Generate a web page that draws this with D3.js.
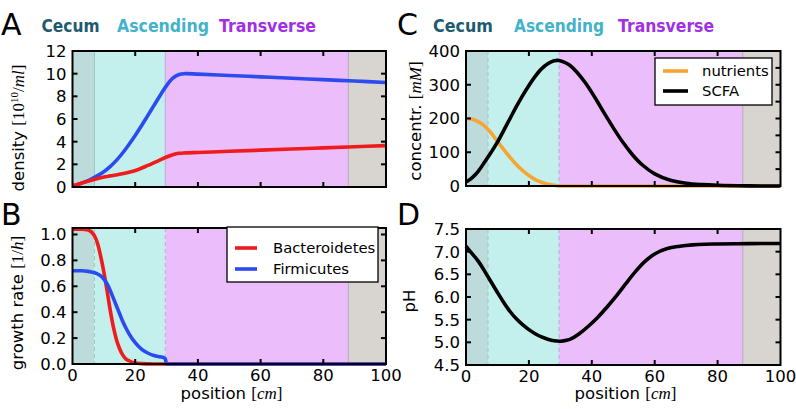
<!DOCTYPE html>
<html><head><meta charset="utf-8">
<script src="https://cdn.jsdelivr.net/npm/d3@7"></script>
<style>
body{margin:0;background:#fff;}
svg{display:block;}
text{font-family:"DejaVu Sans",sans-serif;}
</style></head>
<body>
<svg id="c" width="796" height="409"></svg>
<script>
// ---------------- DATA ----------------
const regionNames = ["Cecum", "Ascending", "Transverse"];
const regionStart = [0, 7, 29.6, 88];
const regionEnd   = [7, 29.6, 88, 100];
const xTicks = [0, 20, 40, 60, 80, 100];

// Panel A: density [10^10/ml]
const densPos  = [0, 2, 4, 6, 8, 10, 12, 14, 16, 18, 20, 22, 24, 26, 28, 30, 32, 34, 36, 40, 50, 60, 70, 80, 90, 100];
const densFirm = [0.1, 0.25, 0.45, 0.7, 1.0, 1.35, 1.8, 2.35, 3.0, 3.75, 4.55, 5.4, 6.3, 7.2, 8.1, 8.95, 9.6, 9.93, 10.0, 9.96, 9.84, 9.72, 9.6, 9.47, 9.35, 9.22];
const densBactPos = [0, 3, 6, 9, 12, 15, 18, 21, 24, 27, 30, 32, 34, 36, 40, 50, 60, 70, 80, 90, 100];
const densBact = [0.1, 0.35, 0.6, 0.82, 0.98, 1.12, 1.3, 1.55, 1.9, 2.27, 2.65, 2.85, 2.97, 3.01, 3.05, 3.15, 3.25, 3.35, 3.45, 3.55, 3.65];
const densTicks = [0, 2, 4, 6, 8, 10, 12];

// Panel B: growth rate [1/h]
const growPos  = [0, 3, 5, 6, 7, 8, 9, 10, 11, 12, 13, 14, 15, 16, 17, 18, 20, 22, 24, 26, 28, 29, 29.6, 30, 100];
const growBact = [1.04, 1.04, 1.035, 1.02, 0.99, 0.93, 0.83, 0.71, 0.57, 0.42, 0.29, 0.19, 0.12, 0.07, 0.04, 0.025, 0.008, 0.003, 0.001, 0, 0, 0, 0, 0, 0];
const growFirm = [0.72, 0.72, 0.715, 0.71, 0.705, 0.695, 0.68, 0.655, 0.62, 0.57, 0.51, 0.45, 0.39, 0.33, 0.28, 0.235, 0.165, 0.115, 0.085, 0.065, 0.055, 0.05, 0.04, 0.0, 0.0];
const growTicks = [0, 0.2, 0.4, 0.6, 0.8, 1.0];

// Panel C: concentration [mM]
const nutrPos  = [0, 2, 4, 6, 8, 10, 12, 14, 16, 18, 20, 22, 24, 26, 28, 29.5, 31, 40, 60, 80, 100];
const concNutr = [200, 198, 190, 177, 157, 132, 108, 85, 64, 46, 31, 19, 11, 5, 2, 0, 0, 0, 0, 0, 0];
const scfaPos  = [0, 2, 4, 6, 8, 10, 12, 14, 16, 18, 20, 22, 24, 26, 28, 29.5, 31, 33, 35, 38, 41, 44, 47, 50, 53, 56, 60, 65, 70, 75, 80, 90, 100];
const concSCFA = [12, 25, 45, 72, 100, 130, 165, 200, 235, 268, 298, 325, 347, 362, 371, 372, 368, 358, 340, 305, 262, 215, 170, 128, 92, 63, 36, 17, 8, 4, 2, 0.5, 0];
const concTicks = [0, 100, 200, 300, 400];
const concTicksRight = [0, 50, 100, 150, 200, 250, 300, 350, 400];

// Panel D: pH
const phPos = [0, 2, 4, 6, 8, 10, 12, 14, 16, 18, 20, 22, 24, 26, 28, 30, 32, 34, 36, 39, 42, 45, 48, 51, 54, 57, 60, 64, 68, 72, 76, 80, 90, 100];
const phVal = [7.12, 6.95, 6.78, 6.56, 6.33, 6.1, 5.88, 5.68, 5.52, 5.39, 5.28, 5.19, 5.12, 5.07, 5.035, 5.025, 5.045, 5.1, 5.19, 5.36, 5.56, 5.79, 6.04, 6.31, 6.57, 6.79, 6.95, 7.07, 7.12, 7.15, 7.165, 7.17, 7.178, 7.18];
const phTicks = [4.5, 5.0, 5.5, 6.0, 6.5, 7.0, 7.5];

// ---------------- STYLE / LAYOUT ----------------
const regionFill = ["#bcdbda", "#c3f0ec", "#ecbdfb", "#d8d4d0"];
const titleColors = ["#1e5b6e", "#43b2cb", "#a12fe6"];
const RED = "#ee1c1c", BLUE = "#2b4bef", ORANGE = "#f6a535", BLACK = "#000";

const svg = d3.select("#c");

const panels = {
  A: {l: 72.5, r: 386, t: 51, b: 187},
  B: {l: 72.5, r: 386, t: 228, b: 364},
  C: {l: 466, r: 780.5, t: 51, b: 186},
  D: {l: 466, r: 780.5, t: 229, b: 365}
};

function drawPanel(p, yDomain, dashed) {
  const x = d3.scaleLinear().domain([0, 100]).range([p.l, p.r]);
  const y = d3.scaleLinear().domain(yDomain).range([p.b, p.t]);
  const g = svg.append("g");
  g.selectAll("rect.reg").data(regionStart).join("rect")
    .attr("x", (d) => x(d)).attr("y", p.t)
    .attr("width", (d, i) => x(regionEnd[i]) - x(d)).attr("height", p.b - p.t)
    .attr("fill", (d, i) => regionFill[i]);
  const bnd = regionStart.slice(1);
  g.selectAll("line.bnd").data(bnd).join("line")
    .attr("x1", (d) => x(d)).attr("x2", (d) => x(d)).attr("y1", p.t).attr("y2", p.b)
    .attr("stroke", (d, i) => ["#9dc3c6", "#b9a8e0", "#b7a8bd"][i])
    .attr("stroke-width", 1)
    .attr("stroke-dasharray", (d, i) => (dashed && i < 2) ? "4,3" : null);
  return {x, y, g};
}

function axes(P, p, yTicksL, yTicksR, yFmt, showXLabels) {
  const {x, y, g} = P;
  const tl = 5;
  g.append("rect").attr("x", p.l).attr("y", p.t).attr("width", p.r - p.l).attr("height", p.b - p.t)
    .attr("fill", "none").attr("stroke", "#000").attr("stroke-width", 2);
  const inner = xTicks.filter((d) => d > 0 && d < 100);
  g.selectAll("line.xb").data(inner).join("line")
    .attr("x1", (d) => x(d)).attr("x2", (d) => x(d)).attr("y1", p.b).attr("y2", p.b - tl)
    .attr("stroke", "#000").attr("stroke-width", 2);
  g.selectAll("line.xt").data(inner).join("line")
    .attr("x1", (d) => x(d)).attr("x2", (d) => x(d)).attr("y1", p.t).attr("y2", p.t + tl)
    .attr("stroke", "#000").attr("stroke-width", 2);
  const [y0, y1] = y.domain();
  const innerL = yTicksL.filter((d) => d > y0 + 1e-9 && d < y1 - 1e-9);
  const innerR = yTicksR.filter((d) => d > y0 + 1e-9 && d < y1 - 1e-9);
  g.selectAll("line.yl").data(innerL).join("line")
    .attr("x1", p.l).attr("x2", p.l + tl).attr("y1", (d) => y(d)).attr("y2", (d) => y(d))
    .attr("stroke", "#000").attr("stroke-width", 2);
  g.selectAll("line.yr").data(innerR).join("line")
    .attr("x1", p.r).attr("x2", p.r - tl).attr("y1", (d) => y(d)).attr("y2", (d) => y(d))
    .attr("stroke", "#000").attr("stroke-width", 2);
  g.selectAll("text.yl").data(yTicksL).join("text")
    .attr("x", p.l - 6).attr("y", (d) => y(d)).attr("dy", "0.36em")
    .attr("text-anchor", "end").attr("font-size", 16.5).text(yFmt);
  if (showXLabels) {
    g.selectAll("text.xl").data(xTicks).join("text")
      .attr("x", (d) => x(d)).attr("y", p.b + 16.5)
      .attr("text-anchor", "middle").attr("font-size", 16.5).text((d) => d);
  }
}

function line(P, xs, ys, color, curve) {
  const gen = d3.line().x((d, i) => P.x(xs[i])).y((d) => P.y(d)).curve(curve || d3.curveMonotoneX);
  P.g.append("path").datum(ys).attr("d", gen).attr("fill", "none")
    .attr("stroke", color).attr("stroke-width", 3.6).attr("stroke-linejoin", "round").attr("stroke-linecap", "butt");
}
const smooth = d3.curveCatmullRom.alpha(0.5);

// Panel A
const PA = drawPanel(panels.A, [0, 12], false);
line(PA, densPos, densFirm, BLUE, smooth);
line(PA, densBactPos, densBact, RED, smooth);
axes(PA, panels.A, densTicks, densTicks, (d) => d, false);

// Panel B
const PB = drawPanel(panels.B, [0, 1.05], true);
line(PB, growPos, growBact, RED);
line(PB, growPos, growFirm, BLUE);
axes(PB, panels.B, growTicks, growTicks, d3.format(".1f"), true);

// Panel C
const PC = drawPanel(panels.C, [0, 400], true);
line(PC, nutrPos, concNutr, ORANGE);
line(PC, scfaPos, concSCFA, BLACK, smooth);
axes(PC, panels.C, concTicks, concTicksRight, (d) => d, false);

// Panel D
const PD = drawPanel(panels.D, [4.5, 7.5], true);
line(PD, phPos, phVal, BLACK, smooth);
axes(PD, panels.D, phTicks, phTicks, d3.format(".1f"), true);

// Legends
function legend(box, rows, items) {
  const lg = svg.append("g");
  lg.append("rect").attr("x", box.x).attr("y", box.y).attr("width", box.w).attr("height", box.h)
    .attr("fill", "#fff").attr("stroke", "#000").attr("stroke-width", 1.3);
  items.forEach((it, i) => {
    lg.append("line").attr("x1", box.lx0).attr("x2", box.lx1).attr("y1", rows[i]).attr("y2", rows[i])
      .attr("stroke", it.color).attr("stroke-width", 3.6);
    lg.append("text").attr("x", box.tx).attr("y", rows[i]).attr("dy", "0.36em")
      .attr("font-size", 14.8).text(it.label);
  });
}
const legendB = ["Bacteroidetes", "Firmicutes"];
const legendC = ["nutrients", "SCFA"];
legend({x: 227, y: 227, w: 151, h: 55, lx0: 235, lx1: 257, tx: 273}, [248, 269],
  [{label: legendB[0], color: RED}, {label: legendB[1], color: BLUE}]);
legend({x: 655, y: 58, w: 117, h: 47, lx0: 663, lx1: 688, tx: 702}, [71, 91],
  [{label: legendC[0], color: ORANGE}, {label: legendC[1], color: BLACK}]);

// Panel letters
const letters = [["A", 1, 35], ["B", 1, 225], ["C", 397, 35], ["D", 397, 225]];
letters.forEach(([t, x, y]) => svg.append("text").attr("x", x).attr("y", y)
  .attr("font-family", "Liberation Sans, Arial, sans-serif").attr("font-size", 30).text(t));

// Region titles
const titleX = [[41.5, 117, 219], [433, 514, 618]];
const titleW = [[58, 92, 97], [60, 90, 96]];
titleX.forEach((xs, k) => {
  regionNames.forEach((n, i) => svg.append("text").attr("x", xs[i]).attr("y", 32)
    .attr("font-family", "Open Sans, sans-serif").attr("font-weight", "bold")
    .attr("font-size", 17).attr("fill", titleColors[i])
    .attr("textLength", titleW[k][i]).attr("lengthAdjust", "spacingAndGlyphs").text(n));
});

// Axis labels
function ylabel(cx, cy, parts) {
  const t = svg.append("text").attr("transform", `translate(${cx},${cy}) rotate(-90)`)
    .attr("text-anchor", "middle").attr("font-size", 16.5);
  parts.forEach((p) => {
    const s = t.append("tspan").text(p.t);
    if (p.serif) s.attr("font-family", "Liberation Serif, serif").attr("font-size", 17);
    if (p.it) s.attr("font-style", "italic");
    if (p.sup) s.attr("font-size", 11).attr("dy", -6);
    if (p.down) s.attr("dy", 6);
  });
}
ylabel(23.5, 128, [{t: "density "}, {t: "[10", serif: true}, {t: "10", serif: true, sup: true}, {t: "/", serif: true, down: true}, {t: "ml", serif: true, it: true}, {t: "]", serif: true}]);
ylabel(23, 303, [{t: "growth rate "}, {t: "[1/", serif: true}, {t: "h", serif: true, it: true}, {t: "]", serif: true}]);
ylabel(420.5, 121, [{t: "concentr. "}, {t: "[", serif: true}, {t: "mM", serif: true, it: true}, {t: "]", serif: true}]);
ylabel(414.5, 301, [{t: "pH"}]);

function xlabel(cx, y) {
  const t = svg.append("text").attr("x", cx).attr("y", y).attr("text-anchor", "middle").attr("font-size", 16.5);
  t.append("tspan").text("position ");
  t.append("tspan").attr("font-family", "Liberation Serif, serif").attr("font-size", 17).text("[");
  t.append("tspan").attr("font-family", "Liberation Serif, serif").attr("font-size", 17).attr("font-style", "italic").text("cm");
  t.append("tspan").attr("font-family", "Liberation Serif, serif").attr("font-size", 17).text("]");
}
xlabel(231.5, 399);
xlabel(625.5, 399);
</script>
</body></html>
